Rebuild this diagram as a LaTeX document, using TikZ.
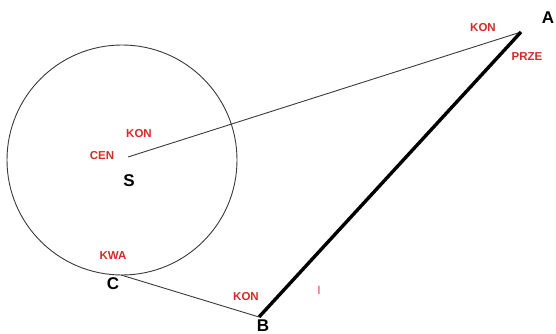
\documentclass[tikz,border=0pt]{standalone}
\usepackage{fontspec}
\setmainfont{Liberation Sans}
\usepackage{xcolor}
\usepackage{tikz}
\definecolor{LabelRed}{HTML}{D42A2A}
\definecolor{LineGrey}{HTML}{3A3A3A}

\begin{document}
\begin{tikzpicture}[x=1pt,y=-1pt]

    \tikzstyle{tag}=[
      text=LabelRed,
      font=\fontsize{11.5}{13}\selectfont\bfseries,
      inner sep=0pt
    ]
    \tikzstyle{letter}=[
      text=black,
      font=\fontsize{17}{19}\selectfont\bfseries,
      inner sep=0pt
    ]

    \useasboundingbox (0,0) rectangle (556,334);

    % --- Points ---
    \coordinate (srodek) at (122,160);
    \coordinate (cen) at (128,157);
    \coordinate (pA) at (521,32);
    \coordinate (pB) at (259,317);
    \coordinate (pC) at (121,275);

    % --- Circle and lines ---
    \draw[LineGrey, line width=0.9pt] (srodek) circle (115);
    \draw[LineGrey, line width=0.9pt] (cen) -- (pA);
    \draw[black, line width=3.4pt] (pA) -- (pB);
    \draw[LineGrey, line width=0.9pt] (pC) -- (pB);

    % --- Letters ---
    \node[letter] (lA) at (548,18) {A};
    \node[letter] (lB) at (263,326) {B};
    \node[letter] (lC) at (113,284) {C};
    \node[letter] (lS) at (129,181) {S};

    % --- Red tags ---
    \node[tag] (konA) at (483,28) {KON};
    \node[tag] (prze) at (527,57) {PRZE};
    \node[tag] (konS) at (139,134) {KON};
    \node[tag] (cenS) at (102,156) {CEN};
    \node[tag] (kwa) at (113,256) {KWA};
    \node[tag] (konB) at (246,297) {KON};
    \node[tag, text=LabelRed!85, font=\fontsize{12}{14}\selectfont] (ib) at (319,290) {I};

  \end{tikzpicture}
\end{document}
